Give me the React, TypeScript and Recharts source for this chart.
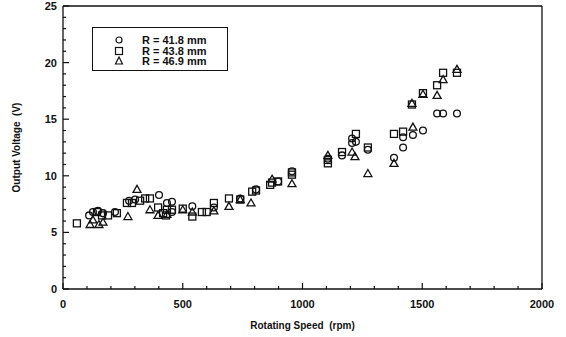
import React from 'react';
import { ScatterChart, Scatter, XAxis, YAxis } from 'recharts';

// rpm, volts
const circlePts = [
  [109, 6.5], [125, 6.8], [146, 6.9], [167, 6.7], [217, 6.8], [276, 7.8], [301, 7.9],
  [401, 8.3], [434, 7.6], [455, 6.8], [455, 7.7], [540, 7.3], [630, 7.2], [740, 8.0],
  [806, 8.8], [898, 9.5], [956, 10.4], [1106, 11.5], [1165, 11.8], [1207, 13.3],
  [1207, 12.9], [1223, 13.0], [1273, 12.3], [1382, 11.6], [1420, 13.4], [1420, 12.5],
  [1461, 13.6], [1503, 14.0], [1562, 15.5], [1587, 15.5], [1645, 15.5],
];
const squarePts = [
  [58, 5.8], [142, 6.8], [163, 6.5], [188, 6.5], [225, 6.7], [267, 7.6], [288, 7.6],
  [322, 7.8], [343, 8.0], [363, 8.0], [397, 7.2], [418, 6.7], [434, 7.0], [430, 6.5],
  [455, 7.0], [500, 7.1], [540, 6.4], [580, 6.8], [600, 6.8], [630, 7.6], [693, 8.0],
  [740, 7.9], [790, 8.6], [806, 8.7], [865, 9.2], [873, 9.4], [898, 9.5], [956, 10.3],
  [956, 10.1], [1106, 11.1], [1106, 11.4], [1165, 12.1], [1223, 13.7], [1273, 12.5],
  [1382, 13.7], [1420, 13.9], [1457, 16.3], [1503, 17.3], [1562, 18.0], [1587, 19.1],
  [1645, 19.1],
];
const trianglePts = [
  [113, 5.7], [150, 5.7], [125, 6.1], [167, 5.9], [271, 6.4], [309, 8.8], [363, 7.0],
  [397, 6.5], [434, 6.6], [500, 7.0], [540, 6.8], [630, 6.9], [693, 7.3], [740, 7.9],
  [785, 7.6], [873, 9.7], [956, 9.3], [1106, 11.8], [1207, 12.1], [1219, 11.7],
  [1273, 10.2], [1382, 11.1], [1461, 14.3], [1457, 16.4], [1503, 17.2], [1562, 17.1],
  [1587, 18.5], [1645, 19.4],
];

const seriesNames = ['R = 41.8 mm', 'R = 43.8 mm', 'R = 46.9 mm'];

const xTicks = [0, 100, 200, 300, 400, 500, 600, 700, 800, 900, 1000, 1100, 1200, 1300, 1400,
  1500, 1600, 1700, 1800, 1900, 2000];
const yTicks = [0, 1, 2, 3, 4, 5, 6, 7, 8, 9, 10, 11, 12, 13, 14, 15, 16, 17, 18, 19, 20,
  21, 22, 23, 24, 25];

const toData = (pts: number[][]) => pts.map(([x, y]) => ({ x, y }));

const INK = '#111';
const FONT = 'Liberation Sans, Arial, sans-serif';

const CircleMark = ({ cx, cy }: any) => (
  <circle cx={cx} cy={cy} r={3.4} fill="none" stroke={INK} strokeWidth={1.3} />
);
const SquareMark = ({ cx, cy }: any) => (
  <rect x={cx - 3.5} y={cy - 3.5} width={7} height={7} fill="none" stroke={INK} strokeWidth={1.3} />
);
const TriangleMark = ({ cx, cy }: any) => (
  <polygon points={`${cx},${cy - 4} ${cx + 4},${cy + 3} ${cx - 4},${cy + 3}`}
    fill="none" stroke={INK} strokeWidth={1.3} />
);

const BottomTick = ({ x, y, payload }: any) => {
  const major = payload.value % 500 === 0;
  return (
    <g>
      <line x1={x} x2={x} y1={y} y2={y - (major ? 6 : 3)} stroke={INK} strokeWidth={1.2} />
      {major && (
        <text x={x} y={y + 19} textAnchor="middle" fontSize={11} fontWeight="bold"
          fontFamily={FONT} fill={INK}>{payload.value}</text>
      )}
    </g>
  );
};
const TopTick = ({ x, y, payload }: any) => {
  const major = payload.value % 500 === 0;
  return <line x1={x} x2={x} y1={y} y2={y + (major ? 6 : 3)} stroke={INK} strokeWidth={1.2} />;
};
const LeftTick = ({ x, y, payload }: any) => {
  const major = payload.value % 5 === 0;
  return (
    <g>
      <line x1={x} x2={x + (major ? 6 : 3)} y1={y} y2={y} stroke={INK} strokeWidth={1.2} />
      {major && (
        <text x={x - 6} y={y + 4} textAnchor="end" fontSize={11} fontWeight="bold"
          fontFamily={FONT} fill={INK}>{payload.value}</text>
      )}
    </g>
  );
};
const RightTick = ({ x, y, payload }: any) => {
  const major = payload.value % 5 === 0;
  return <line x1={x} x2={x - (major ? 6 : 3)} y1={y} y2={y} stroke={INK} strokeWidth={1.2} />;
};

const YTitle = ({ viewBox }: any) => {
  const cy = viewBox.y + viewBox.height / 2;
  return (
    <text x={20} y={cy} transform={`rotate(-90 20 ${cy})`} textAnchor="middle"
      fontSize={10} fontWeight="bold" fontFamily={FONT} fill={INK}>{'Output Voltage\u00a0\u00a0(V)'}</text>
  );
};
const XTitle = ({ viewBox }: any) => (
  <text x={viewBox.x + viewBox.width / 2} y={329} textAnchor="middle" fontSize={10}
    fontWeight="bold" fontFamily={FONT} fill={INK}>{'Rotating Speed\u00a0\u00a0(rpm)'}</text>
);

const legendIcons = [
  <circle cx={6} cy={5} r={3} fill="none" stroke={INK} strokeWidth={1.2} />,
  <rect x={2.5} y={1.5} width={7} height={7} fill="none" stroke={INK} strokeWidth={1.2} />,
  <polygon points="6,1 9.5,8 2.5,8" fill="none" stroke={INK} strokeWidth={1.2} />,
];

export default function App() {
  return (
    <div style={{ position: 'absolute', left: 0, top: 0, width: 566, height: 337, background: '#fff' }}>
      <ScatterChart width={566} height={337} margin={{ top: 5, right: 23, left: 0, bottom: 0 }}>
        <XAxis xAxisId="b" type="number" dataKey="x" domain={[0, 2000]} ticks={xTicks}
          interval={0} height={48} tickSize={0} tickMargin={0} tickLine={false}
          axisLine={{ stroke: INK, strokeWidth: 1.3 }} tick={<BottomTick />} label={<XTitle />} />
        <XAxis xAxisId="t" orientation="top" type="number" domain={[0, 2000]} ticks={xTicks}
          interval={0} height={1} tickSize={0} tickMargin={0} tickLine={false}
          axisLine={{ stroke: INK, strokeWidth: 1.3 }} tick={<TopTick />} />
        <YAxis yAxisId="l" type="number" dataKey="y" domain={[0, 25]} ticks={yTicks}
          interval={0} width={63} tickSize={0} tickMargin={0} tickLine={false}
          axisLine={{ stroke: INK, strokeWidth: 1.3 }} tick={<LeftTick />} label={<YTitle />} />
        <YAxis yAxisId="r" orientation="right" type="number" domain={[0, 25]} ticks={yTicks}
          interval={0} width={1} tickSize={0} tickMargin={0} tickLine={false}
          axisLine={{ stroke: INK, strokeWidth: 1.3 }} tick={<RightTick />} />
        <Scatter name={seriesNames[0]} xAxisId="b" yAxisId="l" data={toData(circlePts)}
          shape={<CircleMark />} isAnimationActive={false} />
        <Scatter name={seriesNames[1]} xAxisId="b" yAxisId="l" data={toData(squarePts)}
          shape={<SquareMark />} isAnimationActive={false} />
        <Scatter name={seriesNames[2]} xAxisId="b" yAxisId="l" data={toData(trianglePts)}
          shape={<TriangleMark />} isAnimationActive={false} />
      </ScatterChart>
      <div style={{
        position: 'absolute', left: 92, top: 27, width: 136, height: 44,
        border: `1.3px solid ${INK}`, boxSizing: 'border-box', fontFamily: FONT,
        fontSize: 11, fontWeight: 'bold', color: INK, paddingTop: 7,
      }}>
        {seriesNames.map((n, i) => (
          <div key={n} style={{ display: 'flex', alignItems: 'center', height: 10.5, lineHeight: '10.5px' }}>
            <svg width={12} height={10} style={{ marginLeft: 20, marginRight: 17 }}>{legendIcons[i]}</svg>
            <span>{n}</span>
          </div>
        ))}
      </div>
    </div>
  );
}
